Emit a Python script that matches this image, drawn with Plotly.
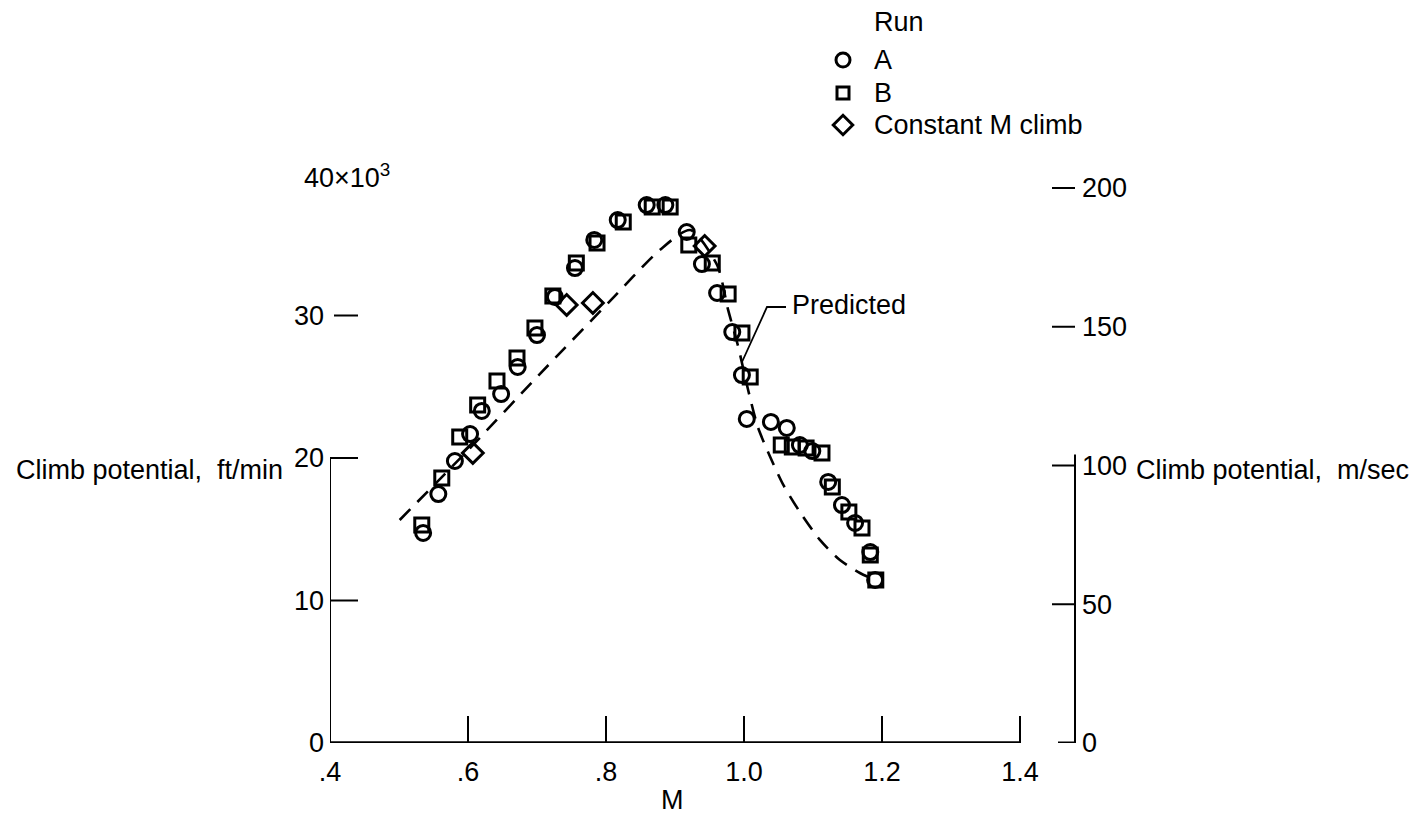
import plotly.graph_objects as go

# ---- data: Mach number vs climb potential (thousands of ft/min) ----
run_a_mach = [0.535, 0.557, 0.581, 0.603, 0.620, 0.648, 0.672, 0.700, 0.726, 0.755,
              0.783, 0.817, 0.859, 0.886, 0.917, 0.939, 0.961, 0.983, 0.997, 1.004,
              1.039, 1.062, 1.081, 1.099, 1.122, 1.142, 1.161, 1.183, 1.190]
run_a_climb = [14.74, 17.47, 19.79, 21.68, 23.30, 24.49, 26.39, 28.63, 31.30, 33.33,
               35.30, 36.70, 37.75, 37.75, 35.86, 33.61, 31.58, 28.84, 25.82, 22.74,
               22.53, 22.11, 20.91, 20.49, 18.32, 16.70, 15.44, 13.40, 11.44]

run_b_mach = [0.533, 0.562, 0.588, 0.614, 0.642, 0.671, 0.697, 0.723, 0.757, 0.787,
              0.825, 0.867, 0.893, 0.920, 0.954, 0.977, 0.997, 1.009, 1.054, 1.070,
              1.090, 1.113, 1.128, 1.152, 1.171, 1.183, 1.191]
run_b_climb = [15.30, 18.60, 21.47, 23.72, 25.40, 27.02, 29.12, 31.37, 33.68, 35.09,
               36.56, 37.61, 37.61, 34.95, 33.68, 31.51, 28.77, 25.68, 20.91, 20.77,
               20.70, 20.35, 17.96, 16.21, 15.09, 13.19, 11.44]

const_m_mach = [0.607, 0.743, 0.781, 0.943]
const_m_climb = [20.35, 30.74, 30.88, 34.88]

pred_mach = [0.501, 0.603, 0.704, 0.806, 0.878, 0.922, 0.961, 0.977, 0.991, 1.006,
             1.020, 1.038, 1.057, 1.081, 1.110, 1.139, 1.168, 1.183]
pred_climb = [15.65, 20.70, 25.89, 31.02, 34.60, 36.00, 33.54, 30.39, 27.93, 24.77,
              22.18, 20.07, 18.11, 16.21, 14.25, 12.84, 11.93, 11.58]

x_ticks = [0.4, 0.6, 0.8, 1.0, 1.2, 1.4]
x_tick_text = [".4", ".6", ".8", "1.0", "1.2", "1.4"]
ft_ticks = [0, 10, 20, 30]
ms_ticks = [0, 50, 100, 150, 200]

legend_labels = ["A", "B", "Constant M climb"]
legend_symbols = ["circle-open", "square-open", "diamond-open"]

# ---- page geometry (pixels) ----
W, H = 1423, 815
L, R, T, B = 330, 348, 145, 72          # edges of the data frame
plot_w = W - L - R
plot_h = H - T - B
X_MIN, X_MAX = 0.4, 0.4 + plot_w / 690.0
FT_MAX = plot_h / 14.25
MS_MAX = plot_h / 2.775

INK = "#000000"
TICK_FONT = dict(family="Liberation Sans, Arial, sans-serif", size=27, color=INK)
TEXT_FONT = dict(family="Liberation Sans, Arial, sans-serif", size=27, color=INK)


def fx(px):
    """page pixel -> paper x"""
    return px / W


def fy(py):
    """page pixel -> paper y"""
    return 1 - py / H


def mx(px):
    """page pixel -> Mach axis value"""
    return X_MIN + (px - L) / plot_w * (X_MAX - X_MIN)


fig = go.Figure()

fig.add_trace(go.Scatter(
    x=pred_mach, y=pred_climb, mode="lines", line_shape="spline",
    line=dict(color=INK, width=2.6, dash="15px,10px", smoothing=0.7),
    showlegend=False, hoverinfo="skip"))

marker_line = dict(width=3, color=INK)
fig.add_trace(go.Scatter(x=run_b_mach, y=run_b_climb, mode="markers", name="B",
                         marker=dict(symbol="square-open", size=14, color=INK, line=marker_line)))
fig.add_trace(go.Scatter(x=run_a_mach, y=run_a_climb, mode="markers", name="A",
                         marker=dict(symbol="circle-open", size=15, color=INK, line=marker_line)))
fig.add_trace(go.Scatter(x=const_m_mach, y=const_m_climb, mode="markers", name="Constant M climb",
                         marker=dict(symbol="diamond-open", size=16, color=INK, line=marker_line)))
# hidden trace binds the right-hand m/sec axis
fig.add_trace(go.Scatter(x=[None], y=[None], yaxis="y2", showlegend=False, hoverinfo="skip"))

# legend key column, on a full-page pixel layer
key_x = 843
key_rows_y = [60, 93, 125]
key_sizes = [14, 12, 15]
for symbol, size, row_y in zip(legend_symbols, key_sizes, key_rows_y):
    fig.add_trace(go.Scatter(
        x=[key_x], y=[row_y], xaxis="x2", yaxis="y3", mode="markers", opacity=1,
        marker=dict(symbol=symbol, size=size, color=INK, opacity=1,
                    line=dict(width=3, color=INK)),
        showlegend=False, hoverinfo="skip"))

shapes = []
thin = dict(color=INK, width=2)
# bottom axis with upward ticks
shapes.append(dict(type="line", xref="x", yref="y", x0=0.4, x1=1.4, y0=0, y1=0,
                   line=dict(color=INK, width=3.5)))
for v in x_ticks[1:]:
    shapes.append(dict(type="line", xref="x", yref="y", x0=v, x1=v, y0=0, y1=27 / 14.25,
                       line=thin))
# left axis (only up to 20) and ticks
shapes.append(dict(type="line", xref="x", yref="y", x0=0.4, x1=0.4, y0=0, y1=20, line=thin))
for v in ft_ticks[1:]:
    x0 = 0.4 if v < 30 else mx(334)
    shapes.append(dict(type="line", xref="x", yref="y", x0=x0, x1=mx(358), y0=v, y1=v,
                       line=thin))
# right axis (only up to ~104 m/s) and ticks
shapes.append(dict(type="line", xref="paper", yref="y2", x0=fx(W - R), x1=fx(W - R),
                   y0=0, y1=104, line=thin))
for v in ms_ticks:
    x0 = fx(1058) if v == 0 else fx(1052)
    shapes.append(dict(type="line", xref="paper", yref="y2", x0=x0, x1=fx(W - R), y0=v, y1=v,
                       line=dict(color=INK, width=3 if v == 0 else 2)))
# leader for the "Predicted" label
shapes.append(dict(type="path", xref="paper", yref="paper",
                   path=f"M {fx(742)} {fy(362)} L {fx(767)} {fy(307)} L {fx(786)} {fy(307)}",
                   line=dict(color=INK, width=1.8)))


def note(text, px, py, xanchor="left", font=TEXT_FONT):
    return dict(text=text, xref="paper", yref="paper", x=fx(px), y=fy(py),
                xanchor=xanchor, yanchor="middle", showarrow=False, font=font)


annotations = [
    note("40×10<sup>3</sup>", 302, 176, font=TICK_FONT),
    note("Climb potential,  ft/min", 285, 470, xanchor="right"),
    note("Climb potential,  m/sec", 1134, 470),
    note("M", 672, 800, xanchor="center"),
    note("Predicted", 790, 305),
    note("Run", 872, 22),
]
for label, row_y in zip(legend_labels, key_rows_y):
    annotations.append(note(label, 872, row_y))

axis_common = dict(showgrid=False, zeroline=False, showline=False, ticks="", automargin=False)

fig.update_layout(
    width=W, height=H,
    margin=dict(l=0, r=0, t=0, b=0, pad=0, autoexpand=False),
    paper_bgcolor="white", plot_bgcolor="rgba(0,0,0,0)",
    showlegend=False,
    shapes=shapes,
    annotations=annotations,
    xaxis=dict(domain=[fx(L), fx(W - R)], range=[X_MIN, X_MAX], tickvals=x_ticks,
               ticktext=x_tick_text, ticklabelstandoff=10, tickfont=TICK_FONT, anchor="y",
               **axis_common),
    yaxis=dict(domain=[B / H, 1 - T / H], range=[0, FT_MAX], tickvals=ft_ticks,
               ticktext=[str(v) for v in ft_ticks], ticklabelstandoff=5, tickfont=TICK_FONT,
               anchor="x", **axis_common),
    yaxis2=dict(range=[0, MS_MAX], overlaying="y", side="right", anchor="x", tickvals=ms_ticks,
                ticktext=[str(v) for v in ms_ticks], ticklabelstandoff=6, tickfont=TICK_FONT,
                **axis_common),
    xaxis2=dict(domain=[0, 1], range=[0, W], visible=False, anchor="y3", automargin=False),
    yaxis3=dict(domain=[0, 1], range=[H, 0], visible=False, anchor="x2", automargin=False),
)

fig.write_html("out.html")
